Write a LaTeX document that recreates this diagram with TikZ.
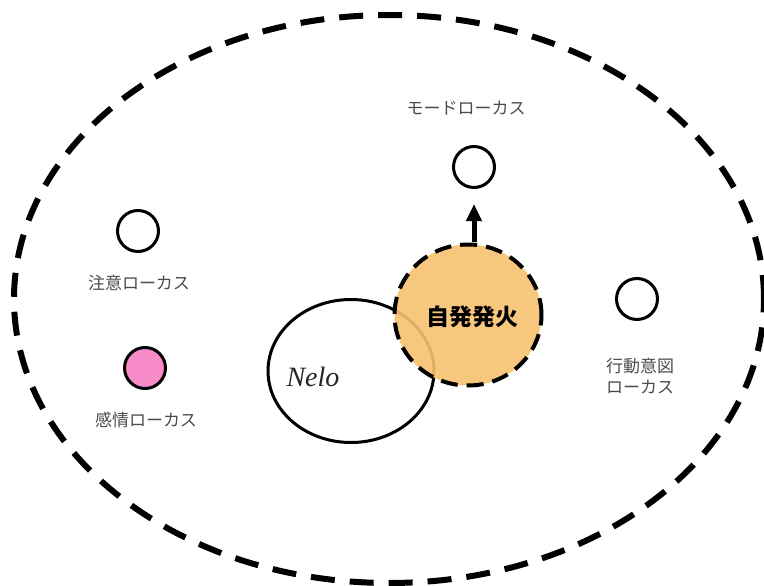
\documentclass[tikz,border=0pt]{standalone}
\usepackage{fontspec}
\setmainfont{Liberation Serif}
\newfontfamily\cjk{Noto Sans CJK JP}
\usetikzlibrary{shapes.geometric,arrows.meta}
\definecolor{firing}{RGB}{248,193,112}
\definecolor{emo}{RGB}{247,140,200}
\tikzset{
  locus/.style={circle,draw=black,line width=3pt,minimum size=41pt,inner sep=0pt,fill=white},
  lbl/.style={inner sep=0pt,font=\cjk\fontsize{17}{21}\selectfont,text=black!70},
}
\begin{document}
\begin{tikzpicture}[x=1pt,y=-1pt]
\useasboundingbox (0,0) rectangle (764,586);
\clip (0,0) rectangle (764,586);
\fill[white] (0,0) rectangle (764,586);
% outer region
\node (outer) [ellipse,draw=black,line width=6pt,dash pattern=on 24pt off 15pt,
  minimum width=750pt,minimum height=568pt,inner sep=0pt] at (389,299) {};
% Nelo
\node (nelo) [ellipse,draw=black,line width=3pt,minimum width=166pt,minimum height=143pt,inner sep=0pt] at (351,371) {};
% spontaneous firing
\node (fire) [ellipse,draw=black,line width=4pt,dash pattern=on 17pt off 9pt,fill=firing,fill opacity=0.9,
  minimum width=147pt,minimum height=141pt,inner sep=0pt] at (468,315) {};
\node (firetext) [inner sep=0pt,font=\cjk\bfseries\fontsize{23}{27}\selectfont] at (472,317) {自発発火};
\node (nelotext) [inner sep=0pt,font=\itshape\fontsize{28}{32}\selectfont,text=black!85] at (313,377) {Nelo};
% loci
\node (mode) [locus] at (474,167) {};
\node (attn) [locus] at (138,231) {};
\node (emotion) [locus,fill=emo] at (145,368) {};
\node (action) [locus] at (637,299) {};
% labels
\node (modelbl) [lbl] at (466,108) {モードローカス};
\node (attnlbl) [lbl] at (139,283) {注意ローカス};
\node (emolbl) [lbl] at (146,420) {感情ローカス};
\node (actlbl) [lbl,align=left,anchor=north west] at (606,358) {行動意図\\ローカス};
% arrow
\draw[line width=5pt,-{Triangle[length=17pt,width=15pt]},shorten >=15pt,shorten <=1pt] (fire.north -| mode) -- (mode.south);
\end{tikzpicture}
\end{document}
